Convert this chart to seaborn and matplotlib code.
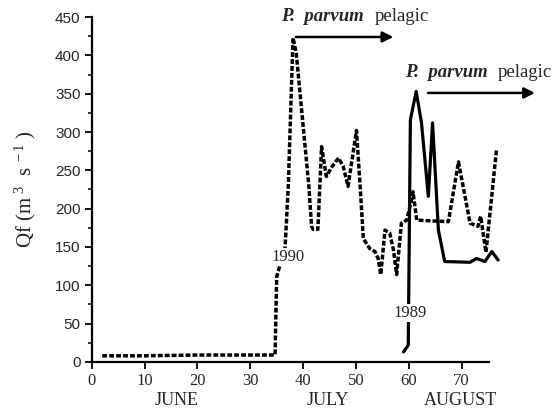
import matplotlib
matplotlib.use("Agg")
import matplotlib.pyplot as plt
import seaborn as sns
import pandas as pd

# ---- data ----
day_1990 = [2, 10, 20, 30, 34.7, 35.0, 36.6, 37.2, 37.8, 38.1, 38.7, 39.9, 41.1,
            41.6, 41.9, 42.8, 43.5, 44.4, 45.5, 46.7, 47.6, 48.5, 49.4, 50.1,
            50.8, 51.4, 52.6, 53.6, 54.2, 54.7, 55.5, 56.4, 57.1, 57.7, 58.6,
            59.6, 60.5, 60.8, 61.5, 67.5, 69.4, 71.6, 73.1, 73.6, 74.6, 76.6]
qf_1990 = [8, 8, 9, 9, 9, 111, 150, 229, 359, 423, 403, 316, 229,
           177, 173, 173, 281, 242, 255, 266, 255, 229, 270, 302,
           229, 161, 148, 144, 135, 114, 172, 168, 146, 114, 181,
           185, 211, 222, 185, 183, 261, 181, 177, 190, 143, 277]

day_1989 = [59.0, 59.9, 60.3, 61.4, 62.4, 63.7, 64.5, 65.6, 66.8, 71.6,
            72.8, 74.4, 75.7, 76.9]
qf_1989 = [13, 22, 316, 353, 312, 216, 312, 172, 131, 130,
           135, 131, 144, 133]

x_ticks = [0, 10, 20, 30, 40, 50, 60, 70]
y_ticks = [0, 50, 100, 150, 200, 250, 300, 350, 400, 450]
months = ["JUNE", "JULY", "AUGUST"]
month_pos = [16.1, 44.6, 69.7]

sns.set_theme(style="ticks")
plt.rcParams["font.family"] = ["Liberation Serif", "DejaVu Serif"]
plt.rcParams["mathtext.fontset"] = "custom"
plt.rcParams["mathtext.rm"] = "Liberation Serif"
plt.rcParams["mathtext.it"] = "Liberation Serif:italic"

fig = plt.figure(figsize=(5.59, 4.16), dpi=100)
ax = fig.add_axes([0.164, 0.130, 0.711, 0.829])

df90 = pd.DataFrame({"day": day_1990, "qf": qf_1990})
df89 = pd.DataFrame({"day": day_1989, "qf": qf_1989})

sns.lineplot(data=df90, x="day", y="qf", ax=ax, color="black", lw=2.5,
             estimator=None, sort=False, clip_on=False,
             linestyle=(0, (1.4, 0.6)))
sns.lineplot(data=df89, x="day", y="qf", ax=ax, color="black", lw=2.3,
             estimator=None, sort=False, clip_on=False)

ax.set_xlim(0, 75.2)
ax.set_ylim(0, 450)
ax.set_xticks(x_ticks)
ax.set_yticks(y_ticks)
ax.set_yticks(range(25, 450, 50), minor=True)
ax.set_xticklabels([str(t) for t in x_ticks], fontsize=12,
                   family=["Liberation Serif"])
ax.set_yticklabels([str(t) for t in y_ticks], fontsize=11,
                   family=["Liberation Sans"])
ax.tick_params(axis="both", which="major", direction="out", length=5,
               width=1.3, color="black", pad=3)
ax.tick_params(axis="y", which="minor", direction="out", length=3,
               width=1.1, color="black")
for s in ["top", "right"]:
    ax.spines[s].set_visible(False)
for s in ["left", "bottom"]:
    ax.spines[s].set_linewidth(1.6)
    ax.spines[s].set_color("black")

ax.set_xlabel("")
ax.set_ylabel(r"Qf (m$^{\ 3}$  s$^{\ -1}$ )", fontsize=15, labelpad=4)
ax.yaxis.set_label_coords(-0.135, 0.50)

for m, p in zip(months, month_pos):
    ax.text(p, -50, m, ha="center", va="center", fontsize=13,
            clip_on=False)

# year labels (masking the lines like the original)
ax.text(37.2, 137, "1990", ha="center", va="center", fontsize=12,
        bbox=dict(facecolor="white", edgecolor="none", pad=1), zorder=5)
ax.text(60.2, 64, "1989", ha="center", va="center", fontsize=12,
        bbox=dict(facecolor="white", edgecolor="none", pad=1), zorder=5)

# P. parvum pelagic annotations
ax.text(35.9, 445, "P.  parvum", style="italic", fontweight="semibold",
        fontsize=13.5, clip_on=False)
ax.text(53.6, 445, "pelagic", fontsize=13.5, clip_on=False)
ax.annotate("", xy=(57.6, 424), xytext=(38.1, 424),
            arrowprops=dict(arrowstyle="-|>", lw=1.8, color="black",
                            mutation_scale=16),
            annotation_clip=False)

ax.text(59.3, 372, "P.  parvum", style="italic", fontweight="semibold",
        fontsize=13.5, clip_on=False)
ax.text(76.9, 372, "pelagic", fontsize=13.5, clip_on=False)
ax.annotate("", xy=(84.4, 351), xytext=(63.1, 351),
            arrowprops=dict(arrowstyle="-|>", lw=1.8, color="black",
                            mutation_scale=16),
            annotation_clip=False)

fig.savefig("out.png", dpi=100)
